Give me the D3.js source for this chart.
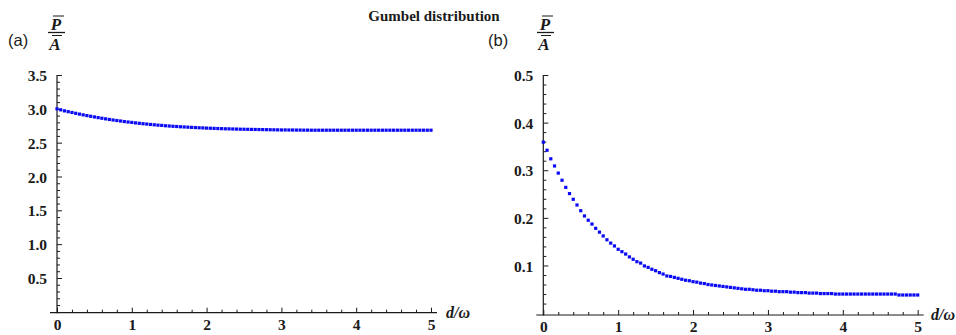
<!DOCTYPE html>
<html>
<head>
<meta charset="utf-8">
<script src="https://cdn.jsdelivr.net/npm/d3@7"></script>
<style>
  html, body { margin: 0; padding: 0; background: #fff; }
  svg { display: block; }
  .tick text { font-family: "Liberation Serif", "DejaVu Serif", serif; font-weight: bold; font-size: 15.5px; fill: #1a1a1a; }
</style>
</head>
<body>
<svg id="chart" width="956" height="335"></svg>
<script>
// ---------- data ----------
const title = "Gumbel distribution";
const dValues = [0,0.05,0.1,0.15,0.2,0.25,0.3,0.35,0.4,0.45,
  0.5,0.55,0.6,0.65,0.7,0.75,0.8,0.85,0.9,0.95,
  1,1.05,1.1,1.15,1.2,1.25,1.3,1.35,1.4,1.45,
  1.5,1.55,1.6,1.65,1.7,1.75,1.8,1.85,1.9,1.95,
  2,2.05,2.1,2.15,2.2,2.25,2.3,2.35,2.4,2.45,
  2.5,2.55,2.6,2.65,2.7,2.75,2.8,2.85,2.9,2.95,
  3,3.05,3.1,3.15,3.2,3.25,3.3,3.35,3.4,3.45,
  3.5,3.55,3.6,3.65,3.7,3.75,3.8,3.85,3.9,3.95,
  4,4.05,4.1,4.15,4.2,4.25,4.3,4.35,4.4,4.45,
  4.5,4.55,4.6,4.65,4.7,4.75,4.8,4.85,4.9,4.95,5];

const seriesA = [3.000,2.985,2.970,2.958,2.946,2.934,2.922,2.911,2.900,2.890,
  2.880,2.870,2.861,2.852,2.843,2.835,2.827,2.820,2.812,2.805,
  2.799,2.792,2.786,2.780,2.775,2.769,2.764,2.759,2.755,2.750,
  2.746,2.742,2.739,2.735,2.732,2.729,2.726,2.723,2.720,2.718,
  2.715,2.713,2.711,2.709,2.707,2.705,2.704,2.702,2.701,2.699,
  2.698,2.697,2.696,2.695,2.694,2.693,2.692,2.691,2.690,2.689,
  2.688,2.688,2.687,2.687,2.686,2.686,2.685,2.685,2.684,2.684,
  2.684,2.684,2.684,2.684,2.684,2.684,2.684,2.684,2.684,2.684,
  2.684,2.684,2.684,2.684,2.684,2.684,2.684,2.684,2.684,2.684,
  2.684,2.684,2.684,2.684,2.684,2.684,2.684,2.684,2.684,2.684,2.684];

const seriesB = [0.359,0.342,0.324,0.309,0.294,0.279,0.264,0.251,0.239,0.227,
  0.215,0.204,0.195,0.187,0.178,0.170,0.162,0.154,0.147,0.141,
  0.134,0.129,0.124,0.118,0.113,0.108,0.105,0.099,0.096,0.092,
  0.089,0.085,0.082,0.078,0.077,0.075,0.073,0.071,0.069,0.068,
  0.066,0.065,0.063,0.062,0.060,0.059,0.058,0.057,0.056,0.055,
  0.054,0.053,0.052,0.051,0.050,0.050,0.049,0.048,0.048,0.047,
  0.047,0.046,0.046,0.045,0.045,0.045,0.044,0.044,0.043,0.043,
  0.043,0.042,0.042,0.042,0.041,0.041,0.041,0.041,0.040,0.040,
  0.040,0.040,0.040,0.040,0.040,0.040,0.040,0.040,0.040,0.040,
  0.040,0.040,0.040,0.040,0.040,0.038,0.038,0.038,0.038,0.038,0.038];

const xTicks = [0, 1, 2, 3, 4, 5];
const xMinorTicks = [0.2,0.4,0.6,0.8,1.2,1.4,1.6,1.8,2.2,2.4,2.6,2.8,3.2,3.4,3.6,3.8,4.2,4.4,4.6,4.8];
const yTicksA = [0.5, 1.0, 1.5, 2.0, 2.5, 3.0, 3.5];
const yTickLabelsA = ["0.5","1.0","1.5","2.0","2.5","3.0","3.5"];
const yMinorA = [0.1,0.2,0.3,0.4,0.6,0.7,0.8,0.9,1.1,1.2,1.3,1.4,1.6,1.7,1.8,1.9,2.1,2.2,2.3,2.4,2.6,2.7,2.8,2.9,3.1,3.2,3.3,3.4];
const yTicksB = [0.1, 0.2, 0.3, 0.4, 0.5];
const yTickLabelsB = ["0.1","0.2","0.3","0.4","0.5"];
const yMinorB = [0.02,0.04,0.06,0.08,0.12,0.14,0.16,0.18,0.22,0.24,0.26,0.28,0.32,0.34,0.36,0.38,0.42,0.44,0.46,0.48];

// ---------- drawing ----------
const svg = d3.select("#chart");
const serif = '"Liberation Serif", "DejaVu Serif", serif';
const ink = "#1a1a1a";
const dotColor = "#0a0af5";

svg.append("text")
  .attr("x", 434).attr("y", 20.5)
  .attr("text-anchor", "middle")
  .attr("font-family", serif).attr("font-weight", "bold").attr("font-size", 15)
  .attr("fill", ink)
  .text(title);

function panel(cfg) {
  const g = svg.append("g");
  const x = d3.scaleLinear().domain([0, 5]).range([cfg.x0, cfg.x1]);
  const y = d3.scaleLinear().domain([cfg.yMin, cfg.yMax]).range([cfg.yBottom, cfg.yTop]);
  const axisY = y(cfg.yMin);

  // x axis major
  const gx = g.append("g").attr("transform", `translate(0,${axisY})`)
    .call(d3.axisBottom(x).tickValues(xTicks).tickSize(-5).tickPadding(0).tickFormat(d3.format("d")));
  gx.select(".domain").remove();
  gx.selectAll(".tick line").attr("stroke", ink).attr("stroke-width", 1);
  gx.selectAll(".tick text").attr("dy", null).attr("y", 17);
  // x minor
  const gxm = g.append("g").attr("transform", `translate(0,${axisY})`)
    .call(d3.axisBottom(x).tickValues(xMinorTicks).tickSize(-3).tickFormat(""));
  gxm.select(".domain").remove();
  gxm.selectAll(".tick line").attr("stroke", ink);

  // y axis major
  const gy = g.append("g").attr("transform", `translate(${x(0)},0)`)
    .call(d3.axisLeft(y).tickValues(cfg.yTicks).tickSize(-5).tickPadding(10)
      .tickFormat((d, i) => cfg.yLabels[i]));
  gy.select(".domain").remove();
  gy.selectAll(".tick line").attr("stroke", ink);
  gy.selectAll(".tick text").attr("dy", "0.36em");
  // y minor
  const gym = g.append("g").attr("transform", `translate(${x(0)},0)`)
    .call(d3.axisLeft(y).tickValues(cfg.yMinor).tickSize(-3).tickFormat(""));
  gym.select(".domain").remove();
  gym.selectAll(".tick line").attr("stroke", ink);

  // axis lines
  g.append("line")
    .attr("x1", x(0) - 7).attr("x2", x(5) + 6)
    .attr("y1", axisY).attr("y2", axisY)
    .attr("stroke", ink).attr("stroke-width", 1.2);
  g.append("line")
    .attr("x1", x(0)).attr("x2", x(0))
    .attr("y1", y(cfg.yMax)).attr("y2", axisY + 0.6)
    .attr("stroke", ink).attr("stroke-width", 1.2);

  // points
  g.append("g").selectAll("rect")
    .data(cfg.values)
    .join("rect")
    .attr("x", (d, i) => x(dValues[i]) - 1.6)
    .attr("y", d => y(d) - 1.6)
    .attr("width", 3.2).attr("height", 3.2)
    .attr("fill", dotColor);

  // x axis label d/ω
  g.append("text")
    .attr("x", cfg.xLabelX).attr("y", axisY + 5)
    .attr("font-family", serif).attr("font-style", "italic").attr("font-weight", "bold")
    .attr("font-size", 16).attr("fill", ink)
    .text("d/ω");

  // panel letter
  svg.append("text")
    .attr("x", cfg.letterX).attr("y", 46)
    .attr("font-family", '"Liberation Sans", Arial, sans-serif')
    .attr("font-size", 16.5).attr("fill", ink)
    .text(cfg.letter);

  // y label: P-bar over A-bar
  const cx = cfg.fracX;
  const lab = svg.append("g").attr("font-family", serif).attr("font-style", "italic")
    .attr("font-weight", "bold").attr("font-size", 17).attr("fill", ink)
    .attr("text-anchor", "middle");
  lab.append("text").attr("x", cx).attr("y", 30).text("P");
  lab.append("text").attr("x", cx - 1).attr("y", 50).text("A");
  lab.append("line").attr("x1", cx - 8).attr("x2", cx + 9).attr("y1", 32.5).attr("y2", 32.5)
    .attr("stroke", ink).attr("stroke-width", 1.3);
  lab.append("line").attr("x1", cx - 3).attr("x2", cx + 8).attr("y1", 16).attr("y2", 16)
    .attr("stroke", ink).attr("stroke-width", 1);
  lab.append("line").attr("x1", cx - 4).attr("x2", cx + 6).attr("y1", 35.5).attr("y2", 35.5)
    .attr("stroke", ink).attr("stroke-width", 1);
}

panel({
  x0: 57, x1: 431, yMin: -0.013, yMax: 3.5, yBottom: 312.7, yTop: 75,
  yTicks: yTicksA, yLabels: yTickLabelsA, yMinor: yMinorA, values: seriesA,
  xLabelX: 446, letter: "(a)", letterX: 8, fracX: 56
});
panel({
  x0: 543.3, x1: 917.7, yMin: -0.004, yMax: 0.5, yBottom: 315, yTop: 75,
  yTicks: yTicksB, yLabels: yTickLabelsB, yMinor: yMinorB, values: seriesB,
  xLabelX: 931, letter: "(b)", letterX: 488, fracX: 545
});
</script>
</body>
</html>
